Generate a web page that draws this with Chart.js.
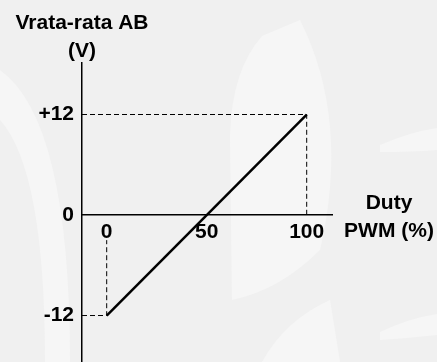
<!DOCTYPE html>
<html>
<head>
<meta charset="utf-8">
<script src="https://cdn.jsdelivr.net/npm/chart.js@4"></script>
<style>
  html, body { margin: 0; padding: 0; background: #f0f0f0; }
  #wrap { width: 437px; height: 362px; }
</style>
</head>
<body>
<div id="wrap"><canvas id="myChart" width="437" height="362"></canvas></div>
<script>
// duty cycle (%) vs average voltage (V)
let duty = [0, 100];
let volt = [-12, 12];
let xTicks = [0, 50, 100];
let yTicks = [-12, 0, 12];
let yLabels = ['-12', '0', '+12'];

let font21 = { family: "'Liberation Sans', Arial, sans-serif", size: 21, weight: 'bold' };

// faint watermark behind, axis captions on top
const decor = {
  id: 'decor',
  beforeDraw(chart) {
    const c = chart.ctx;
    c.save();
    c.fillStyle = '#f0f0f0';
    c.fillRect(0, 0, chart.width, chart.height);
    c.fillStyle = '#f6f6f6';
    // centre leaf
    c.beginPath();
    c.moveTo(262, 36);
    c.quadraticCurveTo(232, 70, 230, 135);
    c.lineTo(232, 300);
    c.quadraticCurveTo(280, 290, 320, 250);
    c.quadraticCurveTo(350, 120, 300, 20);
    c.closePath();
    c.fill();
    // bottom piece
    c.beginPath();
    c.moveTo(262, 362);
    c.quadraticCurveTo(285, 320, 330, 300);
    c.lineTo(340, 362);
    c.closePath();
    c.fill();
    // left crescent
    c.beginPath();
    c.moveTo(0, 70);
    c.quadraticCurveTo(70, 120, 70, 362);
    c.lineTo(45, 362);
    c.quadraticCurveTo(45, 170, 0, 120);
    c.closePath();
    c.fill();
    // right bands
    c.beginPath();
    c.moveTo(380, 145);
    c.quadraticCurveTo(410, 132, 437, 128);
    c.lineTo(437, 150);
    c.quadraticCurveTo(410, 152, 380, 152);
    c.closePath();
    c.fill();
    c.beginPath();
    c.moveTo(380, 332);
    c.quadraticCurveTo(410, 318, 437, 314);
    c.lineTo(437, 335);
    c.quadraticCurveTo(410, 338, 380, 340);
    c.closePath();
    c.fill();
    c.restore();
  },
  afterDraw(chart) {
    const c = chart.ctx;
    const xs = chart.scales.x, ys = chart.scales.y;
    c.save();
    c.fillStyle = '#000';
    c.font = "bold 21px 'Liberation Sans', Arial, sans-serif";
    c.textAlign = 'center';
    c.textBaseline = 'middle';
    let ax = xs.getPixelForValue(xs.min);
    c.fillText('Vrata-rata AB', ax, 23);
    c.fillText('(V)', ax, 51);
    let ay = ys.getPixelForValue(0);
    c.fillText('Duty', 389, ay - 12);
    c.fillText('PWM (%)', 389, ay + 16);
    c.restore();
  }
};

let ctx = document.getElementById('myChart').getContext('2d');

let myChart = new Chart(ctx, {
  type: 'scatter',
  data: {
    datasets: [{
      // main characteristic
      data: duty.map((d, i) => ({ x: d, y: volt[i] })),
      showLine: true,
      borderColor: '#000',
      borderWidth: 2.5,
      pointRadius: 0
    }, {
      // guide at +12
      data: [{ x: -12.35, y: volt[1] }, { x: duty[1], y: volt[1] }, { x: duty[1], y: 0 }],
      showLine: true,
      borderColor: '#000',
      borderWidth: 1,
      borderDash: [5, 3],
      pointRadius: 0
    }, {
      // guide at -12
      data: [{ x: -12.35, y: volt[0] }, { x: duty[0], y: volt[0] }, { x: duty[0], y: -3 }],
      showLine: true,
      borderColor: '#000',
      borderWidth: 1,
      borderDash: [5, 3],
      pointRadius: 0
    }]
  },
  options: {
    responsive: false,
    animation: false,
    layout: {
      padding: { left: 0, top: 63, right: 105, bottom: 0 }
    },
    plugins: {
      legend: { display: false },
      tooltip: { enabled: false }
    },
    scales: {
      x: {
        type: 'linear',
        position: { y: 0 },
        min: -12.35,
        max: 112.65,
        afterFit: (scale) => {
          scale.height = 0;
          scale.paddingTop = 0;
          scale.paddingBottom = 0;
        },
        afterBuildTicks: (scale) => {
          scale.ticks = xTicks.map(v => ({ value: v }));
        },
        grid: { display: false, drawTicks: false },
        border: { display: true, color: '#000', width: 1.5 },
        ticks: {
          color: '#000',
          font: font21,
          padding: 5,
          maxRotation: 0
        }
      },
      y: {
        type: 'linear',
        position: 'left',
        min: -17.55,
        max: 18.15,
        afterFit: (scale) => {
          scale.width = 82;
          scale.paddingTop = 0;
          scale.paddingBottom = 0;
        },
        afterBuildTicks: (scale) => {
          scale.ticks = yTicks.map(v => ({ value: v }));
        },
        grid: { display: false, drawTicks: false },
        border: { display: true, color: '#000', width: 1.5 },
        ticks: {
          color: '#000',
          font: font21,
          padding: 8,
          callback: (value) => yLabels[yTicks.indexOf(value)]
        }
      }
    }
  },
  plugins: [decor]
});
</script>
</body>
</html>
